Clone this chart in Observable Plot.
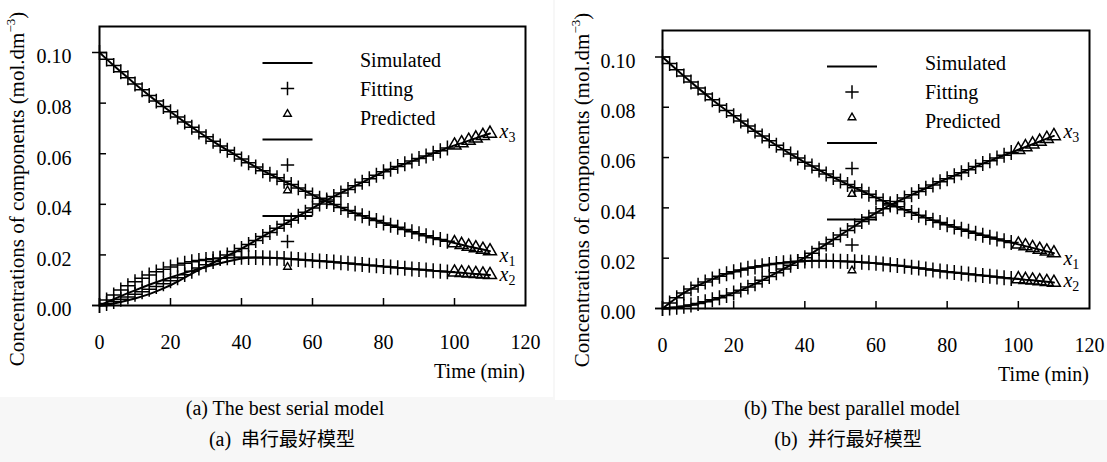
<!DOCTYPE html>
<html><head><meta charset="utf-8">
<script src="https://cdn.jsdelivr.net/npm/d3@7"></script>
<script src="https://cdn.jsdelivr.net/npm/@observablehq/plot@0.6"></script>
<style>
body{margin:0;background:#f7f7f7;width:1107px;height:462px;position:relative;overflow:hidden;font-family:"Liberation Serif",serif;}
.panel{position:absolute;background:#fff;}
.panel svg{overflow:visible;font-family:"Liberation Serif",serif !important;}
.cap{position:absolute;font-size:20px;color:#000;white-space:pre;transform:translate(-50%,-50%);line-height:1;}
.cjk{font-family:"Noto Sans CJK SC",sans-serif;font-size:19px;}
</style></head><body>
<div id="pa" class="panel" style="left:0;top:0;width:553px;height:397px"></div>
<div id="pb" class="panel" style="left:555px;top:0;width:552px;height:400px"></div>
<div id="caps"></div>
<script>
// ---- data ----
const time = [0,2,4,6,8,10,12,14,16,18,20,22,24,26,28,30,32,34,36,38,40,42,44,46,48,50,52,54,56,58,
  60,62,64,66,68,70,72,74,76,78,80,82,84,86,88,90,92,94,96,98,100,102,104,106,108,110];
const lastFitTime = 98; // later points are "Predicted"
const yTicks = [0, 0.02, 0.04, 0.06, 0.08, 0.10];
const xTicks = [0, 20, 40, 60, 80, 100, 120];
const legendLabels = ["Simulated", "Fitting", "Predicted"];
const seriesSubs = ["1", "2", "3"];
const yTitle = "Concentrations of components (mol.dm";
const yTitleSup = "\u22123";
const xTitle = "Time (min)";
const captionsEn = ["(a) The best serial model", "(b) The best parallel model"];
const captionsTag = ["(a)", "(b)"];
const captionsZh = ["串行最好模型", "并行最好模型"];

// (a) serial model
const A_x1 = [
  0.1000,0.0974,0.0949,0.0924,0.0900,0.0876,0.0853,0.0830,0.0808,0.0787,
  0.0766,0.0745,0.0725,0.0705,0.0686,0.0667,0.0649,0.0631,0.0614,0.0598,
  0.0579,0.0564,0.0548,0.0533,0.0519,0.0505,0.0491,0.0478,0.0465,0.0452,
  0.0437,0.0424,0.0411,0.0399,0.0387,0.0376,0.0365,0.0355,0.0345,0.0336,
  0.0326,0.0317,0.0309,0.0300,0.0292,0.0284,0.0276,0.0268,0.0261,0.0254,
  0.0247,0.0240,0.0233,0.0227,0.0221,0.0215];
const A_x2sim = [
  0.0000,0.0012,0.0025,0.0037,0.0049,0.0060,0.0071,0.0082,0.0092,0.0102,
  0.0111,0.0120,0.0129,0.0137,0.0145,0.0153,0.0160,0.0167,0.0174,0.0180,
  0.0186,0.0189,0.0190,0.0190,0.0189,0.0188,0.0186,0.0184,0.0182,0.0180,
  0.0178,0.0176,0.0174,0.0172,0.0169,0.0167,0.0164,0.0162,0.0159,0.0157,
  0.0154,0.0152,0.0149,0.0147,0.0144,0.0142,0.0140,0.0137,0.0135,0.0133,
  0.0131,0.0129,0.0127,0.0125,0.0123,0.0121];
const A_x2fitEarly = [
  0.0000,0.0022,0.0042,0.0061,0.0078,0.0094,0.0108,0.0121,0.0133,0.0143,
  0.0152,0.0160,0.0167,0.0173,0.0178,0.0182,0.0185,0.0187,0.0189,0.0190,
  0.0191,0.0190,0.0190,0.0189,0.0188,0.0187,0.0186,0.0184,0.0182,0.0180];
const A_x3sim = [
  0.0000,0.0003,0.0008,0.0014,0.0021,0.0028,0.0036,0.0045,0.0056,0.0068,
  0.0080,0.0094,0.0110,0.0126,0.0141,0.0155,0.0169,0.0183,0.0197,0.0210,
  0.0225,0.0241,0.0257,0.0273,0.0289,0.0305,0.0321,0.0337,0.0353,0.0369,
  0.0385,0.0401,0.0417,0.0431,0.0445,0.0459,0.0473,0.0487,0.0501,0.0515,
  0.0529,0.0539,0.0550,0.0560,0.0571,0.0581,0.0591,0.0602,0.0612,0.0623,
  0.0633,0.0642,0.0652,0.0661,0.0671,0.0680];
const A_x3fitEarly = [
  0.0000,0.0008,0.0016,0.0025,0.0034,0.0044,0.0054,0.0064,0.0075,0.0086,
  0.0098,0.0110,0.0122,0.0135,0.0148,0.0161,0.0174,0.0187,0.0200,0.0213];

// (b) parallel model
const B_x1 = [
  0.1000,0.0974,0.0949,0.0924,0.0900,0.0876,0.0853,0.0830,0.0808,0.0787,
  0.0766,0.0745,0.0725,0.0705,0.0686,0.0667,0.0649,0.0631,0.0614,0.0598,
  0.0581,0.0566,0.0550,0.0535,0.0521,0.0507,0.0493,0.0480,0.0467,0.0454,
  0.0441,0.0428,0.0416,0.0404,0.0393,0.0382,0.0371,0.0361,0.0351,0.0342,
  0.0333,0.0324,0.0315,0.0307,0.0299,0.0291,0.0283,0.0276,0.0269,0.0262,
  0.0255,0.0248,0.0241,0.0234,0.0227,0.0220];
const B_x2 = [
  0.0000,0.0022,0.0043,0.0062,0.0078,0.0092,0.0105,0.0117,0.0128,0.0138,
  0.0146,0.0153,0.0160,0.0165,0.0170,0.0175,0.0179,0.0182,0.0185,0.0187,
  0.0189,0.0190,0.0190,0.0190,0.0189,0.0188,0.0187,0.0186,0.0184,0.0182,
  0.0180,0.0177,0.0174,0.0171,0.0168,0.0164,0.0161,0.0157,0.0153,0.0149,
  0.0146,0.0143,0.0140,0.0137,0.0134,0.0131,0.0128,0.0125,0.0122,0.0119,
  0.0117,0.0114,0.0112,0.0109,0.0106,0.0103];
const B_x3 = [
  0.0000,0.0002,0.0005,0.0009,0.0014,0.0020,0.0027,0.0035,0.0043,0.0052,
  0.0062,0.0073,0.0085,0.0098,0.0112,0.0127,0.0142,0.0157,0.0172,0.0187,
  0.0202,0.0220,0.0238,0.0256,0.0274,0.0292,0.0310,0.0328,0.0346,0.0363,
  0.0380,0.0396,0.0411,0.0425,0.0439,0.0452,0.0465,0.0478,0.0491,0.0504,
  0.0516,0.0528,0.0540,0.0552,0.0564,0.0576,0.0587,0.0598,0.0609,0.0620,
  0.0631,0.0642,0.0653,0.0664,0.0675,0.0686];

const A_x2fit = A_x2fitEarly.concat(A_x2sim.slice(A_x2fitEarly.length));
const A_x3fit = A_x3fitEarly.concat(A_x3sim.slice(A_x3fitEarly.length));

// ---- drawing ----
const rows = vals => time.map((t, i) => ({t, v: vals[i]}));
const plusSize = 75, triSize = 72, legPlusSize = 60, legTriSize = 42;
const SERIF = '"Liberation Serif", serif';

function panel(el, cfg) {
  const marks = [];
  for (const s of cfg.series) {
    marks.push(Plot.line(rows(s.sim), {x: "t", y: "v", stroke: "#000", strokeWidth: 2}));
    const fr = rows(s.fit);
    marks.push(Plot.dot(fr.filter(d => d.t <= lastFitTime), {x: "t", y: "v", symbol: "plus", r: Math.sqrt(plusSize / Math.PI), stroke: "#000", strokeWidth: 1.5}));
    marks.push(Plot.dot(fr.filter(d => d.t > lastFitTime), {x: "t", y: "v", symbol: "triangle", r: Math.sqrt(triSize / Math.PI), stroke: "#000", strokeWidth: 1.5, fill: "none"}));
  }
  const chart = Plot.plot({
    width: cfg.w, height: cfg.h,
    marginLeft: cfg.ml, marginRight: cfg.mr, marginTop: cfg.mt, marginBottom: cfg.mb,
    style: {fontFamily: SERIF, fontSize: "20px", color: "#000", background: "transparent", overflow: "visible"},
    x: {domain: [0, 120]},
    y: {domain: [0, cfg.ytop]},
    marks: [
      ...marks,
      Plot.axisY({ticks: yTicks, tickSize: -7, tickFormat: () => "", label: null, strokeWidth: 1.5}),
      Plot.axisY({ticks: yTicks, tickSize: 0, tickPadding: cfg.yPad, dy: 4.5, tickFormat: d => d.toFixed(2), label: null, fontFamily: SERIF}),
      Plot.axisX({ticks: xTicks.slice(1, -1), tickSize: -7, tickFormat: () => "", label: null, strokeWidth: 1.5}),
      Plot.axisX({ticks: xTicks, tickSize: 0, tickPadding: 29, tickFormat: d => String(d), label: null, fontFamily: SERIF}),
      Plot.frame({stroke: "#000", strokeWidth: 2})
    ]
  });
  el.appendChild(chart);
  const svg = d3.select(chart);
  const sx = chart.scale("x"), sy = chart.scale("y");
  const fs = "20px";
  const txt = () => svg.append("text").attr("font-family", SERIF).attr("text-anchor", "start").attr("fill", "#000").attr("font-size", fs);

  // series labels x1 x2 x3 at the line ends
  cfg.series.forEach((s, i) => {
    const n = s.sim.length - 1;
    const t = txt()
      .attr("x", sx.apply(time[n]) + 10)
      .attr("y", sy.apply(s.sim[n]) + s.labDy);
    t.append("tspan").attr("font-style", "italic").text("x");
    t.append("tspan").attr("font-size", "14px").attr("dy", 4).text(seriesSubs[i]);
  });

  // legend
  const L = cfg.legend;
  const g = svg.append("g").attr("stroke", "#000").attr("fill", "none");
  for (let k = 0; k < 3; k++) {
    for (let j = 0; j < 3; j++) {
      const y = L.y0 + (k * 3 + j) * L.step;
      if (j === 0) {
        g.append("line").attr("x1", L.cx - 25).attr("x2", L.cx + 25).attr("y1", y).attr("y2", y).attr("stroke-width", 2);
      } else if (j === 1) {
        g.append("path").attr("transform", `translate(${L.cx},${y})`).attr("d", d3.symbol(d3.symbolPlus, legPlusSize)()).attr("stroke-width", 1.5);
      } else {
        g.append("path").attr("transform", `translate(${L.cx},${y})`).attr("d", d3.symbol(d3.symbolTriangle2, legTriSize)()).attr("stroke-width", 1.4);
      }
    }
  }
  legendLabels.forEach((lab, j) => {
    txt().attr("x", L.tx).attr("y", L.y0 + L.step + 7 + (j - 1) * 29).text(lab);
  });

  // y title (rotated) with superscript
  const yt = txt()
    .attr("transform", `translate(${cfg.yTitleX},${cfg.yTitleY}) rotate(-90)`)
    .attr("text-anchor", "middle").attr("font-size", "21px");
  yt.append("tspan").text(yTitle);
  yt.append("tspan").attr("font-size", "13px").attr("dy", -9).text(yTitleSup);
  yt.append("tspan").attr("dy", 9).text(")");

  // x title
  txt().attr("x", cfg.w - cfg.mr).attr("y", cfg.xTitleY).attr("text-anchor", "end").text(xTitle);
}

panel(document.getElementById("pa"), {
  w: 553, h: 397, ml: 99, mr: 28, mt: 26, mb: 92, ytop: 0.1103, yPad: 28,
  series: [
    {sim: A_x1, fit: A_x1, labDy: 11},
    {sim: A_x2sim, fit: A_x2fit, labDy: 7},
    {sim: A_x3sim, fit: A_x3fit, labDy: 5}
  ],
  legend: {cx: 287.5, y0: 63, step: 25.5, tx: 360},
  yTitleX: 24, yTitleY: 189, xTitleY: 378
});
panel(document.getElementById("pb"), {
  w: 552, h: 400, ml: 107, mr: 18, mt: 30, mb: 92, ytop: 0.1105, yPad: 27,
  series: [
    {sim: B_x1, fit: B_x1, labDy: 12},
    {sim: B_x2, fit: B_x2, labDy: 5},
    {sim: B_x3, fit: B_x3, labDy: 3}
  ],
  legend: {cx: 297, y0: 66.5, step: 25.5, tx: 370},
  yTitleX: 34, yTitleY: 190, xTitleY: 381
});

// captions
const capPos = [[285, 408, 282, 438], [852, 408, 848, 438]];
const caps = document.getElementById("caps");
capPos.forEach((p, i) => {
  const a = document.createElement("div");
  a.className = "cap"; a.style.left = p[0] + "px"; a.style.top = p[1] + "px";
  a.textContent = captionsEn[i];
  caps.appendChild(a);
  const b = document.createElement("div");
  b.className = "cap"; b.style.left = p[2] + "px"; b.style.top = p[3] + "px";
  b.textContent = captionsTag[i] + "  ";
  const s = document.createElement("span"); s.className = "cjk"; s.textContent = captionsZh[i];
  b.appendChild(s);
  caps.appendChild(b);
});
</script>
</body></html>
